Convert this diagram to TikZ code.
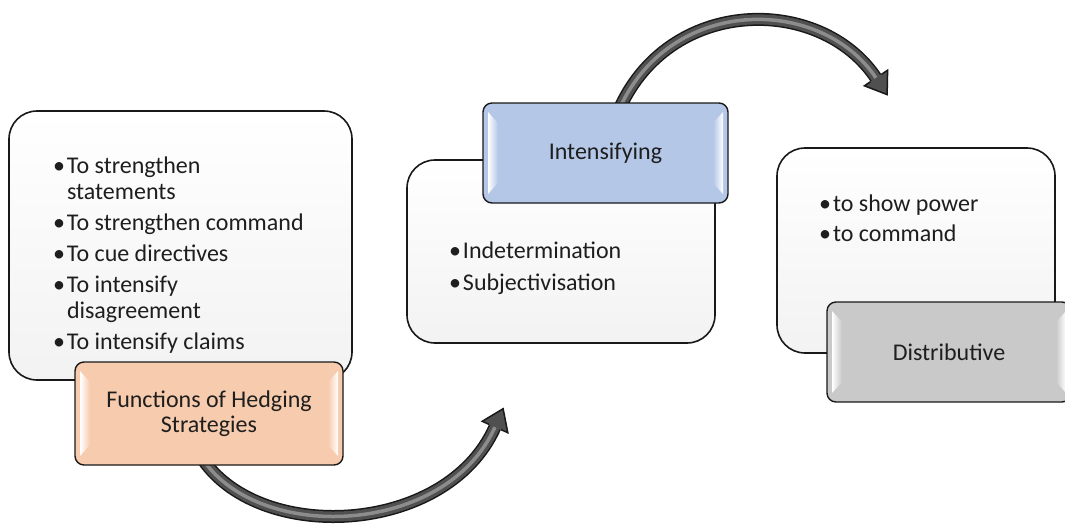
\documentclass[tikz,border=0pt]{standalone}
\usepackage{fontspec}
\setmainfont{Carlito}
\usetikzlibrary{calc}
\definecolor{peach}{RGB}{247,203,173}
\definecolor{lblue}{RGB}{180,199,231}
\definecolor{lgray}{RGB}{201,201,201}
\definecolor{txt}{RGB}{30,30,30}
\definecolor{shaftc}{RGB}{80,80,80}
\definecolor{shaftl}{RGB}{140,140,140}
\newcommand{\bi}{\makebox[14pt][l]{•}}
\newcommand{\bc}{\hspace*{14pt}}
\newcommand{\tagbevel}[2]{%
 \shade[left color=white, right color=#2] ([shift={(5,9)}]#1.north west) -- ([shift={(15,20)}]#1.north west) -- ([shift={(15,-20)}]#1.south west) -- ([shift={(5,-9)}]#1.south west) -- cycle;
 \shade[left color=#2, right color=white] ([shift={(-5,9)}]#1.north east) -- ([shift={(-15,20)}]#1.north east) -- ([shift={(-15,-20)}]#1.south east) -- ([shift={(-5,-9)}]#1.south east) -- cycle;}
\tikzset{
 panel/.style={draw=black!90, line width=1.6pt, rounded corners=28pt, top color=white, bottom color=black!5, anchor=north west, inner sep=0pt, outer sep=0pt},
 tagbox/.style={draw=black!90, line width=1.4pt, rounded corners=9pt, anchor=north west, inner sep=0pt, outer sep=0pt, text=txt, align=center, font=\fontsize{24}{25}\selectfont},
 listtext/.style={anchor=north west, inner sep=0pt, outer sep=0pt, align=left, text=txt, font=\fontsize{24}{26}\selectfont},
 shaftout/.style={line width=13pt, draw=black!90},
 shaftin/.style={line width=10pt, draw=shaftc},
 shafthi/.style={line width=3.5pt, draw=shaftl},
 headfill/.style={fill=shaftc},
 headline/.style={draw=black!90, line width=1.5pt, line join=miter}
}
\begin{document}
\begin{tikzpicture}[x=1pt,y=-1pt]
\useasboundingbox (0,0) rectangle (1065,528);
% panels
\node[panel, minimum width=343pt, minimum height=269pt] (p1) at (9,111) {};
\node[panel, minimum width=308pt, minimum height=183pt] (p2) at (407,160) {};
\node[panel, minimum width=278pt, minimum height=205pt] (p3) at (777,148) {};
% arrow 1
\coordinate (a1s) at (200,455);
\coordinate (a1e) at (495,427);
\coordinate (h1a) at (500.9,429.6);
\coordinate (h1w) at (507.8,432.7);
\coordinate (h1t) at (503.1,408.7);
\coordinate (h1v) at (482.2,421.3);
\coordinate (h1b) at (489.1,424.4);
\draw[shaftout] (a1s) .. controls (255,545) and (446.3,536.7) .. (a1e);
\draw[shaftin] (a1s) .. controls (255,545) and (446.3,536.7) .. (a1e);
\draw[shafthi] (a1s) .. controls (255,545) and (446.3,536.7) .. (a1e);
\fill[headfill] (h1w) -- (h1t) -- (h1v) -- cycle;
\draw[headline] (h1a) -- (h1w) -- (h1t) -- (h1v) -- (h1b);
% arrow 2
\coordinate (a2s) at (618,112);
\coordinate (a2e) at (876,78);
\coordinate (h2a) at (881.4,74.4);
\coordinate (h2w) at (887.6,70.2);
\coordinate (h2t) at (887.1,94.6);
\coordinate (h2v) at (864.4,85.8);
\coordinate (h2b) at (870.6,81.6);
\draw[shaftout] (a2s) .. controls (668,-5) and (820.5,-5.2) .. (a2e);
\draw[shaftin] (a2s) .. controls (668,-5) and (820.5,-5.2) .. (a2e);
\draw[shafthi] (a2s) .. controls (668,-5) and (820.5,-5.2) .. (a2e);
\fill[headfill] (h2w) -- (h2t) -- (h2v) -- cycle;
\draw[headline] (h2a) -- (h2w) -- (h2t) -- (h2v) -- (h2b);
% tags
\node[tagbox, fill=peach, minimum width=268pt, minimum height=103pt] (t1) at (75,362) {Functions of Hedging\\Strategies};
\node[tagbox, fill=lblue, minimum width=245pt, minimum height=100pt] (t2) at (483,103) {Intensifying};
\node[tagbox, fill=lgray, minimum width=244pt, minimum height=100pt] (t3) at (827,302) {Distributive};
\tagbevel{t1}{peach}
\tagbevel{t2}{lblue}
\tagbevel{t3}{lgray}
% lists
\node[listtext] (l1) at (53,157) {\bi To strengthen\\ \bc statements\\[5pt] \bi To strengthen command\\[5pt] \bi To cue directives\\[5pt] \bi To intensify\\ \bc disagreement\\[5pt] \bi To intensify claims};
\node[listtext] (l2) at (449,242) {\bi Indetermination\\[6pt] \bi Subjectivisation};
\node[listtext] (l3) at (819,195) {\bi to show power\\[4pt] \bi to command};
\end{tikzpicture}
\end{document}
